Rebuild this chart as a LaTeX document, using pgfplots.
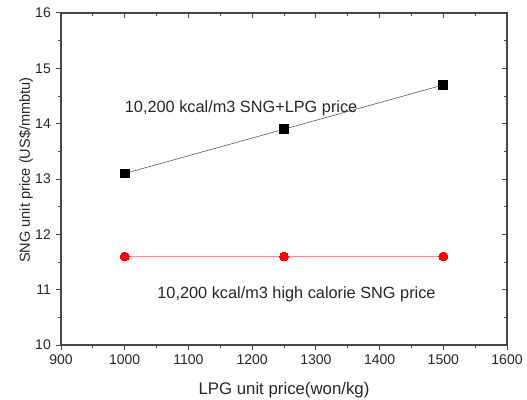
\documentclass[border=0pt]{standalone}
\usepackage{pgfplots}
\pgfplotsset{compat=1.18}
\usepackage{fontspec}
\setmainfont{Liberation Sans}
\definecolor{axgray}{RGB}{70,70,70}
\definecolor{pinkline}{RGB}{255,140,140}
\begin{document}
\fontsize{15}{17}\selectfont
\begin{tikzpicture}
\pgfplotsset{myaxis/.style={
  width=446pt,height=332pt,scale only axis,
  xmin=900,xmax=1600,ymin=10,ymax=16,
  xtick={900,1000,...,1600}, ytick={10,11,...,16},
  minor x tick num=1, minor y tick num=1,
  major tick length=5pt, minor tick length=3pt,
  axis line style={line width=1.2pt, axgray},
  every tick/.style={line width=1pt, axgray},
  tick label style={font=\fontsize{14}{16}\selectfont, text=black!85},
  /pgf/number format/assume math mode=true,
  /pgf/number format/set thousands separator={},
}}
\begin{axis}[myaxis, xtick pos=bottom, ytick pos=left, tick align=outside,
  xlabel={LPG unit price(won/kg)},
  ylabel={SNG unit price (US\$/mmbtu)},
  ylabel style={at={(axis description cs:-0.0785,0.527)}, anchor=center, font=\fontsize{14.6}{16}\selectfont, text=black!85},
  xlabel style={at={(axis description cs:0.5,-0.1355)}, anchor=center, font=\fontsize{16.8}{18}\selectfont, text=black!85},
  clip=false]
\addplot[color=black!65, line width=0.6pt, mark=square*, mark size=4.3pt, mark options={fill=black, draw=black, line width=0pt}] coordinates {(1000,13.1) (1250,13.9) (1500,14.7)};
\addplot[color=pinkline, line width=1.3pt, mark=*, mark size=4.4pt, mark options={fill=red, draw=red, line width=0pt}] coordinates {(1000,11.6) (1250,11.6) (1500,11.6)};
\node[anchor=base west, inner sep=0pt, text=black!85, font=\fontsize{16.3}{18}\selectfont] at (axis cs:1000,14.20) {10,200 kcal/m3 SNG+LPG price};
\node[anchor=base west, inner sep=0pt, text=black!85, font=\fontsize{16.3}{18}\selectfont] at (axis cs:1051,10.84) {10,200 kcal/m3 high calorie SNG price};
\end{axis}
\begin{axis}[myaxis, xtick pos=top, ytick pos=right, tick align=inside,
  xticklabels={}, yticklabels={}]
\end{axis}
\pgfresetboundingbox
\path ([shift={(-61pt,-54pt)}]current axis.south west) rectangle ([shift={(20pt,13pt)}]current axis.north east);
\end{tikzpicture}
\end{document}
